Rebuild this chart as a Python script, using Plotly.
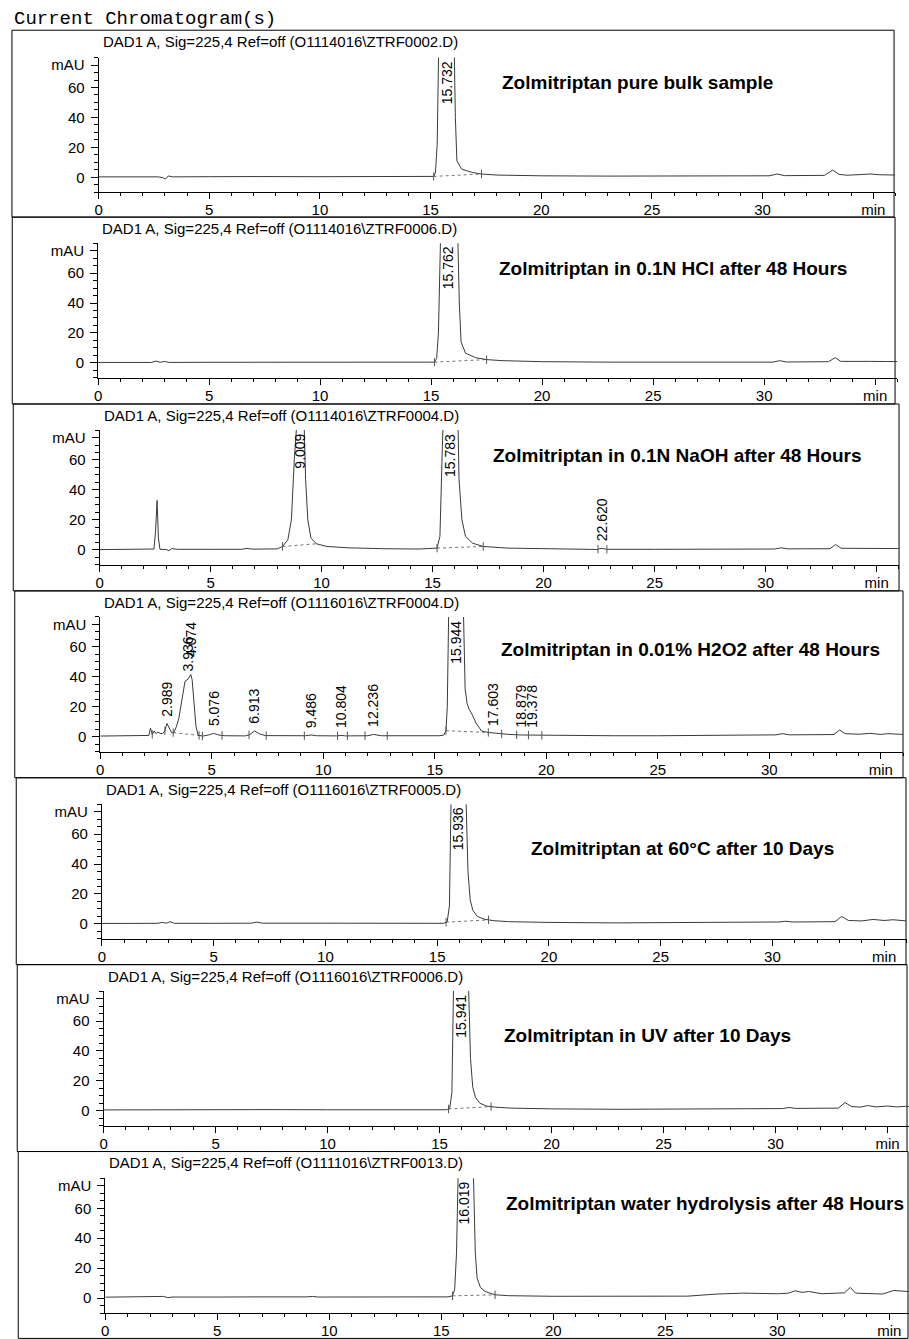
import numpy as np
import plotly.graph_objects as go

W, H = 909, 1339
SANS = "Liberation Sans, Arial, Helvetica, sans-serif"
MONO = "Courier New, Liberation Mono, monospace"

header = "Current Chromatogram(s)"
titles = [
    "DAD1 A, Sig=225,4 Ref=off (O1114016\\ZTRF0002.D)",
    "DAD1 A, Sig=225,4 Ref=off (O1114016\\ZTRF0006.D)",
    "DAD1 A, Sig=225,4 Ref=off (O1114016\\ZTRF0004.D)",
    "DAD1 A, Sig=225,4 Ref=off (O1116016\\ZTRF0004.D)",
    "DAD1 A, Sig=225,4 Ref=off (O1116016\\ZTRF0005.D)",
    "DAD1 A, Sig=225,4 Ref=off (O1116016\\ZTRF0006.D)",
    "DAD1 A, Sig=225,4 Ref=off (O1111016\\ZTRF0013.D)",
]
captions = [
    "Zolmitriptan pure bulk sample",
    "Zolmitriptan in 0.1N HCl after 48 Hours",
    "Zolmitriptan in 0.1N NaOH after 48 Hours",
    "Zolmitriptan in 0.01% H2O2 after 48 Hours",
    "Zolmitriptan at 60°C after 10 Days",
    "Zolmitriptan in UV after 10 Days",
    "Zolmitriptan water hydrolysis after 48 Hours",
]
x_tickvals = [0, 5, 10, 15, 20, 25, 30, 35]
x_ticktext = ["0", "5", "10", "15", "20", "25", "30", "min"]
y_tickvals = [0, 20, 40, 60, 75]
y_ticktext = ["0", "20", "40", "60", "mAU"]

# ---- panel 1: pure bulk ----
t1 = [0, 1.5, 2.7, 2.9, 3.02, 3.15, 3.35, 5, 6.8, 7.0, 7.3, 10, 13, 15.0, 15.14, 15.22, 15.3, 15.36, 15.42, 15.74,
      16.0, 16.07, 16.12, 16.19, 16.4, 16.87, 17.3, 18.0, 20, 23, 26, 30.3, 30.66, 31.0, 32.8, 33.17, 33.45, 33.8,
      34.4, 34.86, 35.3, 36]
y1 = [0.3, 0.3, 0.3, -0.3, -1.2, 0.9, 0.3, 0.4, 0.5, 0.8, 0.5, 0.4, 0.4, 0.4, 0.6, 3, 22, 80, 150, 300,
      150, 80, 40, 11, 5.5, 3.3, 2.2, 1.5, 1.0, 0.8, 0.8, 1.0, 2.2, 1.1, 1.3, 4.8, 2.0, 1.4,
      1.8, 2.2, 1.7, 1.5]
rt1 = [15.732]
ev1 = [15.14, 17.3]
bs1, be1 = [15.14], [17.3]

# ---- panel 2: 0.1N HCl ----
t2 = [0, 2.4, 2.6, 2.8, 3.0, 3.2, 5, 6.8, 7.0, 7.3, 10, 13, 15.0, 15.15, 15.25, 15.33, 15.42, 15.5, 15.8, 16.1,
      16.2, 16.27, 16.35, 16.55, 17.0, 17.5, 18.2, 20, 23, 26, 30.4, 30.7, 31.0, 32.9, 33.2, 33.45, 34.0, 34.8,
      35.5, 36]
y2 = [0.3, 0.3, 1.2, 0.4, 1.0, 0.3, 0.4, 0.4, 0.7, 0.4, 0.3, 0.3, 0.3, 0.5, 3, 20, 80, 150, 300, 150,
      80, 40, 14, 6.5, 3.5, 2.2, 1.5, 0.8, 0.5, 0.5, 0.5, 1.5, 0.6, 0.8, 3.5, 1.0, 0.8, 1.0,
      0.9, 0.9]
rt2 = [15.762]
ev2 = [15.15, 17.5]
bs2, be2 = [15.15], [17.5]

# ---- panel 3: 0.1N NaOH ----
t3 = [0, 2.0, 2.45, 2.52, 2.59, 2.65, 2.72, 3.0, 3.12, 3.25, 3.5, 5, 6.4, 6.64, 6.9, 8.0, 8.24, 8.48, 8.64, 8.77,
      8.85, 9.0, 9.15, 9.22, 9.28, 9.38, 9.52, 9.76, 10.24, 11.2, 12.8, 14.4, 15.2, 15.33, 15.44, 15.5, 15.8,
      16.1, 16.19, 16.32, 16.48, 16.8, 17.28, 18.4, 20.8, 22.4, 22.62, 22.85, 25, 28, 30.4, 30.7, 31.0, 32.9,
      33.15, 33.4, 34.5, 35.2, 36]
y3 = [0.1, 0.2, 0.5, 12, 33, 8, 0.3, 0.2, -0.6, 0.8, 0.3, 0.3, 0.3, 0.9, 0.4, 0.6, 2.2, 6.7, 20, 60,
      95, 110, 100, 80, 47, 20, 7.8, 4, 2.2, 1.3, 0.7, 0.5, 1.1, 9, 69, 120, 250,
      120, 47, 20, 9, 4.4, 2.2, 1.1, 0.4, 0.2, 1.0, 0.3, 0.3, 0.4, 0.5, 1.3, 0.6, 0.7,
      3.5, 1.0, 0.9, 1.0, 0.8]
rt3 = [9.009, 15.783, 22.620]
ev3 = [8.24, 15.2, 17.28, 22.45, 22.85]
bs3, be3 = [8.24, 15.2], [9.76, 17.28]

# ---- panel 4: 0.01% H2O2 ----
t4 = [0, 2.0, 2.18, 2.25, 2.33, 2.42, 2.5, 2.58, 2.68, 2.8, 2.9, 2.99, 3.1, 3.2, 3.3, 3.42, 3.52, 3.65, 3.8, 3.94,
      4.0, 4.06, 4.12, 4.2, 4.29, 4.39, 4.6, 4.9, 5.08, 5.3, 5.6, 6.5, 6.7, 6.92, 7.15, 7.4, 9.2, 9.45, 9.7, 10.6,
      10.8, 11.0, 12.0, 12.25, 12.6, 15.2, 15.4, 15.5, 15.56, 15.62, 15.66, 15.95, 16.25, 16.29, 16.36, 16.45,
      16.55, 16.67, 16.85, 17.1, 17.4, 17.6, 17.8, 18.3, 18.88, 19.38, 20, 23, 25, 27, 30.3, 30.6, 30.9, 32.9,
      33.15, 33.4, 34.0, 34.5, 35.0, 35.3, 35.7, 36]
y4 = [0.4, 0.4, 0.8, 5.8, 1.5, 3.8, 2.0, 3.0, 2.2, 2.0, 4.0, 8.8, 5.0, 2.7, 2.7, 7, 12, 25, 37, 38.5,
      40, 41.5, 38, 20, 7, 0.9, 0.4, 1.3, 2.2, 1.1, 0.6, 0.5, 1.3, 3.8, 1.8, 0.7, 0.6, 1.1, 0.6, 0.5,
      0.8, 0.5, 0.6, 1.5, 0.6, 0.6, 1.0, 4, 20, 80, 150, 300, 150, 80, 32, 22,
      18, 15, 9, 3.7, 2.8, 2.5, 2.0, 1.5, 1.1, 1.0, 0.8, 0.6, 0.6, 0.8, 1.2, 2.0, 1.2, 1.4,
      4.5, 2.0, 1.6, 2.2, 1.5, 2.0, 1.6, 1.5]
rt4 = [2.989, 3.936, 4.074, 5.076, 6.913, 9.486, 10.804, 12.236, 15.944, 17.603, 18.879, 19.378]
ev4 = [2.33, 2.9, 3.27, 4.43, 4.58, 5.46, 6.67, 7.44, 9.15, 10.64, 11.08, 11.87, 12.87, 15.5, 17.4, 18.0,
       18.67, 19.2, 19.8]
bs4, be4 = [3.27, 15.5], [4.43, 17.4]

# ---- panel 5: 60 °C ----
t5 = [0, 2.5, 2.7, 2.9, 3.05, 3.25, 5, 6.7, 6.9, 7.2, 10, 13, 15.3, 15.45, 15.55, 15.62, 15.68, 15.94, 16.25, 16.3,
      16.38, 16.48, 16.6, 16.8, 17.1, 17.5, 18.2, 20, 23, 26, 28, 30.3, 30.6, 30.9, 32.8, 33.1, 33.4, 34.0, 34.5,
      35.0, 35.4, 35.8, 36]
y5 = [0.3, 0.4, 1.0, 0.5, 1.5, 0.4, 0.4, 0.5, 1.2, 0.5, 0.5, 0.4, 0.4, 1.5, 12, 80, 150, 300, 150, 80,
      35, 16, 9, 5, 3.2, 2.2, 1.5, 1.0, 0.7, 0.8, 1.0, 1.3, 1.8, 1.3, 1.5, 5.0, 2.3, 2.0, 3.0,
      2.3, 2.8, 2.2, 2.0]
rt5 = [15.936]
ev5 = [15.4, 17.3]
bs5, be5 = [15.4], [17.3]

# ---- panel 6: UV ----
t6 = [0, 2.5, 2.8, 3.0, 3.2, 5, 6.8, 7.0, 7.3, 10, 13, 15.3, 15.45, 15.55, 15.62, 15.68, 15.94, 16.25, 16.3, 16.38,
      16.48, 16.6, 16.8, 17.1, 17.5, 18.2, 20, 23, 26, 29, 30.3, 30.6, 30.9, 32.8, 33.1, 33.4, 33.8, 34.1, 34.5,
      35.0, 35.4, 35.8, 36]
y6 = [0.6, 0.7, 1.0, 0.7, 0.8, 0.7, 0.8, 1.2, 0.8, 0.7, 0.7, 0.7, 1.5, 12, 80, 150, 300, 150, 80, 35,
      16, 9, 5, 3.2, 2.4, 1.8, 1.3, 1.0, 1.0, 1.2, 1.5, 2.2, 1.6, 1.8, 5.5, 2.8, 2.5, 3.5, 2.6,
      3.2, 2.6, 3.0, 2.8]
rt6 = [15.941]
ev6 = [15.4, 17.3]
bs6, be6 = [15.4], [17.3]

# ---- panel 7: water hydrolysis ----
t7 = [0, 2.3, 2.6, 2.8, 3.0, 5, 6.6, 6.8, 7.0, 9.0, 9.25, 9.5, 12, 14.4, 14.6, 15.3, 15.5, 15.6, 15.68, 15.75,
      15.8, 16.02, 16.38, 16.44, 16.52, 16.6, 16.75, 16.96, 17.4, 18, 20, 23, 25, 26, 27.3, 28.5, 30.0, 30.5,
      30.8, 31.1, 31.4, 32.0, 33.0, 33.26, 33.5, 34.0, 34.7, 35.2, 35.6, 36]
y7 = [0.6, 0.6, 1.1, 0.3, 0.7, 0.7, 0.8, 1.2, 0.8, 0.8, 1.1, 0.7, 0.7, 0.4, 0.7, 0.8, 1.5, 6, 30, 80,
      150, 300, 150, 80, 30, 13.3, 7, 4.4, 2.2, 1.6, 1.2, 1.1, 1.0, 1.3, 2.7, 3.3, 2.9, 3.3,
      4.9, 3.8, 4.4, 2.9, 3.5, 7.1, 3.3, 3.0, 2.7, 5.1, 4.4, 4.2]
rt7 = [16.019]
ev7 = [15.5, 17.4]
bs7, be7 = [15.5], [17.4]

panels = [
    (t1, y1, rt1, ev1, bs1, be1),
    (t2, y2, rt2, ev2, bs2, be2),
    (t3, y3, rt3, ev3, bs3, be3),
    (t4, y4, rt4, ev4, bs4, be4),
    (t5, y5, rt5, ev5, bs5, be5),
    (t6, y6, rt6, ev6, bs6, be6),
    (t7, y7, rt7, ev7, bs7, be7),
]

# ---- page geometry (pixels) ----
sep0, pitch = 29.3, 187.3
zero_px = [176.7, 362.7, 550.0, 737.3, 925.0, 1112.3, 1300.0]
axis_x0 = [95.0, 94.5, 96.0, 96.7, 98.3, 100.0, 101.7]
px_per_min = [22.23, 22.3, 22.3, 22.4, 22.45, 22.5, 22.5]
px_per_mau = 1.5
frame_l = [8.0, 8.3, 9.3, 10.8, 12.3, 13.3, 14.3]
frame_r = [894.0, 895.0, 899.0, 903.0, 906.0, 907.0, 908.0]
cap_x = [498, 495, 489, 497, 527, 500, 502]
cap_dy = [52.7, 51.7, 52.0, 58.8, 71.0, 71.0, 52.0]

YMIN, YMAX = -10, 80
TRACE = "#3a3a3a"

fig = go.Figure()
layout = dict(
    width=W, height=H, margin=dict(l=0, r=0, t=0, b=0, pad=0),
    paper_bgcolor="white", plot_bgcolor="white", showlegend=False,
    font=dict(family=SANS, color="black", size=15),
)
shapes, annotations = [], []

annotations.append(dict(
    text=header, xref="paper", yref="paper", x=8 / W, y=1 - 18 / H,
    xanchor="left", yanchor="middle", showarrow=False,
    font=dict(family=MONO, size=19, color="black"),
))

for i, (t, y, rt, ev, bs, be) in enumerate(panels):
    k = "" if i == 0 else str(i + 1)
    xa, ya = "x" + k, "y" + k
    top = sep0 + i * pitch
    zero = zero_px[i]
    x0, s = axis_x0[i], px_per_min[i]
    xend = min(36.0, (W - x0) / s)
    xdom = [x0 / W, min(1.0, (x0 + xend * s) / W)]
    ydom = [1 - (zero - YMIN * px_per_mau) / H, 1 - (zero - YMAX * px_per_mau) / H]

    # integration baselines (dotted)
    for a, b in zip(bs, be):
        fig.add_trace(go.Scatter(
            x=[a, b], y=[float(np.interp(a, t, y)), float(np.interp(b, t, y))],
            mode="lines", line=dict(color="#777777", width=1, dash="dot"),
            xaxis=xa, yaxis=ya, hoverinfo="skip"))
    # chromatogram trace
    fig.add_trace(go.Scatter(
        x=t, y=y, mode="lines", line=dict(color=TRACE, width=1),
        xaxis=xa, yaxis=ya, hoverinfo="skip"))
    # integration event ticks
    fig.add_trace(go.Scatter(
        x=ev, y=[float(np.interp(e, t, y)) for e in ev], mode="markers",
        marker=dict(symbol="line-ns", size=6, line=dict(color="#555555", width=1)),
        xaxis=xa, yaxis=ya, hoverinfo="skip"))

    layout["xaxis" + k] = dict(
        domain=xdom, range=[0, xend], anchor=ya,
        showline=True, linecolor="black", linewidth=1, mirror=False,
        ticks="outside", ticklen=6, tickwidth=1, tickcolor="black",
        tickmode="array", tickvals=x_tickvals, ticktext=x_ticktext,
        tickfont=dict(size=15, family=SANS, color="black"),
        ticklabelstandoff=-2,
        minor=dict(dtick=1, tick0=0, ticks="outside", ticklen=3, tickwidth=1, tickcolor="black"),
        showgrid=False, zeroline=False, fixedrange=True,
    )
    layout["yaxis" + k] = dict(
        domain=ydom, range=[YMIN, YMAX], anchor=xa,
        showline=True, linecolor="black", linewidth=1,
        ticks="outside", ticklen=7, tickwidth=1, tickcolor="black",
        tickmode="array", tickvals=y_tickvals, ticktext=y_ticktext,
        tickfont=dict(size=15, family=SANS, color="black"),
        ticklabelstandoff=3,
        minor=dict(dtick=5, tick0=0, ticks="outside", ticklen=4, tickwidth=1, tickcolor="black"),
        showgrid=False, zeroline=False, fixedrange=True,
    )

    # panel frame
    shapes.append(dict(
        type="rect", xref="paper", yref="paper",
        x0=frame_l[i] / W, x1=frame_r[i] / W,
        y0=1 - (top + pitch) / H, y1=1 - top / H,
        line=dict(color="black", width=1), fillcolor="rgba(0,0,0,0)", layer="below",
    ))
    # signal title
    annotations.append(dict(
        text=titles[i], xref="paper", yref="paper",
        x=(x0 + 2) / W, y=1 - (top + 11.4) / H,
        xanchor="left", yanchor="middle", showarrow=False,
        font=dict(family=SANS, size=15, color="black"),
    ))
    # bold caption
    annotations.append(dict(
        text="<b>" + captions[i] + "</b>", xref="paper", yref="paper",
        x=cap_x[i] / W, y=1 - (top + cap_dy[i]) / H,
        xanchor="left", yanchor="middle", showarrow=False,
        font=dict(family=SANS, size=19, color="black"),
    ))
    # retention-time labels
    prev = None
    for r in rt:
        apex = float(np.interp(r, t, y))
        if apex > 70:
            ylab, yanc = 79.0, "top"
        else:
            ylab, yanc = apex + 3.5, "bottom"
            if prev is not None and r - prev < 0.25:
                ylab += 7.5
        annotations.append(dict(
            text=f"{r:.3f}", xref=xa, yref=ya, x=r, y=ylab,
            xanchor="center", yanchor=yanc, textangle=-90, showarrow=False,
            font=dict(family=SANS, size=14, color="black"),
        ))
        prev = r

layout["shapes"] = shapes
layout["annotations"] = annotations
fig.update_layout(**layout)
fig.write_html(
    "out.html",
    config={"displayModeBar": False, "staticPlot": True},
    post_script="document.body.style.margin='0px';document.body.style.padding='0px';"
                "document.body.style.overflow='hidden';",
)
